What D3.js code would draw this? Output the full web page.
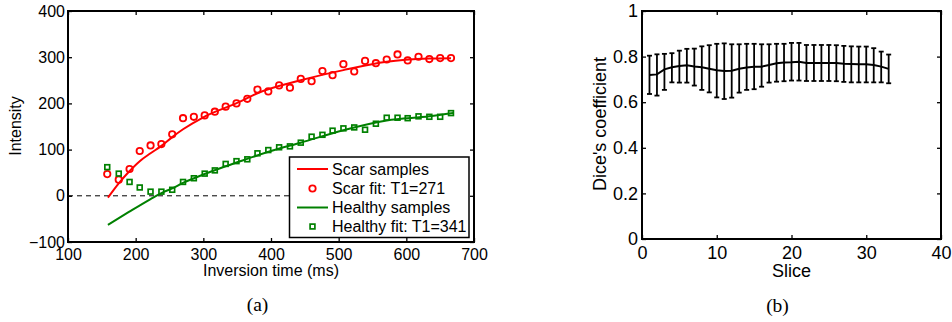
<!DOCTYPE html>
<html>
<head>
<meta charset="utf-8">
<script src="https://cdn.jsdelivr.net/npm/d3@7"></script>
<style>
  body { margin: 0; background: #fff; }
  svg { display: block; }
  .tick text { font-family: "Liberation Sans", Arial, sans-serif; fill: #000; }
  .label { font-family: "Liberation Sans", Arial, sans-serif; fill: #000; }
  .caption { font-family: "Liberation Serif", "Times New Roman", serif; font-size: 19.5px; fill: #000; }
</style>
</head>
<body>
<script>
// (a) inversion recovery samples
const invTime = [158, 175, 191, 206, 222, 238, 254, 270, 286, 302, 317, 333, 349, 365, 380, 396, 412,
  428, 444, 460, 476, 491, 507, 523, 539, 555, 571, 587, 602, 618, 634, 650, 666];
const scarValues = [47, 35, 58, 97, 109, 112, 133, 168, 171, 174, 182, 193, 200, 210, 230, 226, 239,
  234, 253, 248, 270, 261, 285, 269, 292, 287, 295, 306, 293, 301, 296, 298, 298];
const healthyValues = [62, 48, 30, 18, 9, 9, 13, 30, 38, 48, 55, 69, 75, 79, 92, 99, 105,
  107, 115, 128, 132, 141, 146, 148, 143, 156, 169, 169, 168, 172, 171, 171, 179];

// fitted recovery curves
const scarFitTime = [159, 175, 190, 206, 222, 238, 254, 270, 300, 350, 380, 444, 507, 571, 634, 666];
const scarFitValues = [-4, 27, 52, 75, 92, 108, 127, 144, 170, 201, 222, 250, 272, 290, 297, 298];
const healthyFitTime = [159, 190, 222, 238, 254, 270, 300, 333, 365, 400, 444, 507, 571, 634, 669];
const healthyFitValues = [-63, -35, -7, 6, 16, 28, 46, 64, 80, 97, 115, 142, 163, 172, 179];

const legendLabels = ["Scar samples", "Scar fit: T1=271", "Healthy samples", "Healthy fit: T1=341"];
const xTicksA = [100, 200, 300, 400, 500, 600, 700];
const yTicksA = [-100, 0, 100, 200, 300, 400];

// (b) Dice's coefficient per slice
const slices = d3.range(1, 34);
const diceMean = [0.719, 0.722, 0.744, 0.753, 0.759, 0.762, 0.757, 0.753, 0.747, 0.740, 0.737, 0.738,
  0.747, 0.752, 0.755, 0.756, 0.763, 0.771, 0.774, 0.775, 0.777, 0.772, 0.772, 0.772, 0.772, 0.772,
  0.769, 0.768, 0.766, 0.766, 0.763, 0.756, 0.746];
const diceHigh = [0.804, 0.810, 0.812, 0.815, 0.826, 0.834, 0.835, 0.845, 0.850, 0.856, 0.858, 0.854,
  0.854, 0.856, 0.856, 0.854, 0.854, 0.856, 0.856, 0.860, 0.860, 0.851, 0.851, 0.851, 0.851, 0.850,
  0.847, 0.845, 0.844, 0.844, 0.837, 0.822, 0.809];
const diceLow = [0.636, 0.629, 0.654, 0.687, 0.686, 0.686, 0.673, 0.654, 0.643, 0.621, 0.614, 0.620,
  0.642, 0.654, 0.657, 0.668, 0.686, 0.690, 0.692, 0.695, 0.695, 0.693, 0.693, 0.693, 0.693, 0.692,
  0.689, 0.687, 0.687, 0.687, 0.687, 0.687, 0.683];
const xTicksB = [0, 10, 20, 30, 40];
const yTicksB = [0, 0.2, 0.4, 0.6, 0.8, 1];

const width = 952;
const height = 322;
const red = "#ff0000";
const green = "#008000";

const svg = d3.select("body").append("svg")
  .attr("width", width)
  .attr("height", height);

// draws a MATLAB style box with inward ticks on all four sides
function drawBox(g, x, y, xTicks, yTicks, fontSize, xPad, yPad, fmt) {
  const [x0, x1] = x.range();
  const [y0, y1] = y.range();
  g.append("g").attr("transform", `translate(0,${y0})`)
    .call(d3.axisBottom(x).tickValues(xTicks).tickSizeInner(-4).tickSizeOuter(0).tickPadding(xPad).tickFormat(fmt))
    .call(a => a.select(".domain").remove())
    .call(a => a.selectAll("text").style("font-size", fontSize + "px"));
  g.append("g").attr("transform", `translate(0,${y1})`)
    .call(d3.axisTop(x).tickValues(xTicks).tickSizeInner(-4).tickSizeOuter(0).tickFormat(""))
    .call(a => a.select(".domain").remove());
  g.append("g").attr("transform", `translate(${x0},0)`)
    .call(d3.axisLeft(y).tickValues(yTicks).tickSizeInner(-4).tickSizeOuter(0).tickPadding(yPad).tickFormat(fmt))
    .call(a => a.select(".domain").remove())
    .call(a => a.selectAll("text").style("font-size", fontSize + "px"));
  g.append("g").attr("transform", `translate(${x1},0)`)
    .call(d3.axisRight(y).tickValues(yTicks).tickSizeInner(-4).tickSizeOuter(0).tickFormat(""))
    .call(a => a.select(".domain").remove());
  g.selectAll(".tick line").attr("stroke", "#000").attr("stroke-width", 1.3);
  g.append("rect")
    .attr("x", x0).attr("y", y1)
    .attr("width", x1 - x0).attr("height", y0 - y1)
    .attr("fill", "none").attr("stroke", "#000").attr("stroke-width", 2);
}

// ---------- panel (a) ----------
const xA = d3.scaleLinear().domain([100, 700]).range([68, 474]);
const yA = d3.scaleLinear().domain([-100, 400]).range([242, 11]);
const gA = svg.append("g");

gA.append("line")
  .attr("x1", xA(100)).attr("x2", xA(700))
  .attr("y1", yA(0)).attr("y2", yA(0))
  .attr("stroke", "#000").attr("stroke-width", 1)
  .attr("stroke-dasharray", "5,4");

const lineA = d3.line().x(d => xA(d[0])).y(d => yA(d[1])).curve(d3.curveMonotoneX);

gA.append("path")
  .datum(d3.zip(scarFitTime, scarFitValues))
  .attr("d", lineA)
  .attr("fill", "none").attr("stroke", red).attr("stroke-width", 2);

gA.append("path")
  .datum(d3.zip(healthyFitTime, healthyFitValues))
  .attr("d", lineA)
  .attr("fill", "none").attr("stroke", green).attr("stroke-width", 2);

gA.selectAll("circle.scar")
  .data(d3.zip(invTime, scarValues))
  .enter().append("circle")
  .attr("class", "scar")
  .attr("cx", d => xA(d[0]))
  .attr("cy", d => yA(d[1]))
  .attr("r", 3.2)
  .attr("fill", "none").attr("stroke", red).attr("stroke-width", 1.8);

gA.selectAll("rect.healthy")
  .data(d3.zip(invTime, healthyValues))
  .enter().append("rect")
  .attr("class", "healthy")
  .attr("x", d => xA(d[0]) - 2.4)
  .attr("y", d => yA(d[1]) - 2.4)
  .attr("width", 4.8).attr("height", 4.8)
  .attr("fill", "none").attr("stroke", green).attr("stroke-width", 1.7);

drawBox(gA, xA, yA, xTicksA, yTicksA, 16, 7, 3, d3.format(""));

// legend
const legend = gA.append("g");
legend.append("rect")
  .attr("x", 289.5).attr("y", 157)
  .attr("width", 179.5).attr("height", 80.5)
  .attr("fill", "#fff").attr("stroke", "#000").attr("stroke-width", 1.5);
const rowY = [169, 188.5, 207.5, 226.5];
legendLabels.forEach((label, i) => {
  const color = i < 2 ? red : green;
  const y = rowY[i];
  if (i % 2 === 0) {
    legend.append("line")
      .attr("x1", 297).attr("x2", 328).attr("y1", y).attr("y2", y)
      .attr("stroke", color).attr("stroke-width", 2);
  } else if (i === 1) {
    legend.append("circle")
      .attr("cx", 312.5).attr("cy", y).attr("r", 3.2)
      .attr("fill", "none").attr("stroke", color).attr("stroke-width", 1.8);
  } else {
    legend.append("rect")
      .attr("x", 310.1).attr("y", y - 2.4).attr("width", 4.8).attr("height", 4.8)
      .attr("fill", "none").attr("stroke", color).attr("stroke-width", 1.7);
  }
  legend.append("text")
    .attr("class", "label")
    .attr("x", 332).attr("y", y).attr("dy", "0.36em")
    .style("font-size", "16px")
    .text(label);
});

gA.append("text")
  .attr("class", "label")
  .attr("x", 271).attr("y", 276)
  .attr("text-anchor", "middle")
  .style("font-size", "16px")
  .text("Inversion time (ms)");

gA.append("text")
  .attr("class", "label")
  .attr("transform", "translate(21,126) rotate(-90)")
  .attr("text-anchor", "middle")
  .style("font-size", "16px")
  .text("Intensity");

svg.append("text")
  .attr("class", "caption")
  .attr("x", 257.5).attr("y", 311)
  .attr("text-anchor", "middle")
  .text("(a)");

// ---------- panel (b) ----------
const xB = d3.scaleLinear().domain([0, 40]).range([642, 941]);
const yB = d3.scaleLinear().domain([0, 1]).range([239, 11]);
const gB = svg.append("g");

const bars = gB.selectAll("g.bar")
  .data(slices.map((s, i) => ({ s, lo: diceLow[i], hi: diceHigh[i] })))
  .enter().append("g")
  .attr("class", "bar")
  .attr("stroke", "#000").attr("stroke-width", 1.8);
bars.append("line")
  .attr("x1", d => xB(d.s)).attr("x2", d => xB(d.s))
  .attr("y1", d => yB(d.lo)).attr("y2", d => yB(d.hi));
bars.append("line")
  .attr("x1", d => xB(d.s) - 2.5).attr("x2", d => xB(d.s) + 2.5)
  .attr("y1", d => yB(d.lo)).attr("y2", d => yB(d.lo));
bars.append("line")
  .attr("x1", d => xB(d.s) - 2.5).attr("x2", d => xB(d.s) + 2.5)
  .attr("y1", d => yB(d.hi)).attr("y2", d => yB(d.hi));

gB.append("path")
  .datum(d3.zip(slices, diceMean))
  .attr("d", d3.line().x(d => xB(d[0])).y(d => yB(d[1])))
  .attr("fill", "none").attr("stroke", "#000").attr("stroke-width", 2);

drawBox(gB, xB, yB, xTicksB, yTicksB, 18, 7, 4, d3.format("~g"));

gB.append("text")
  .attr("class", "label")
  .attr("x", xB(20)).attr("y", 277)
  .attr("text-anchor", "middle")
  .style("font-size", "18px")
  .text("Slice");

gB.append("text")
  .attr("class", "label")
  .attr("transform", "translate(606,124) rotate(-90)")
  .attr("text-anchor", "middle")
  .style("font-size", "18px")
  .text("Dice's coefficient");

svg.append("text")
  .attr("class", "caption")
  .attr("x", 777.5).attr("y", 312)
  .attr("text-anchor", "middle")
  .text("(b)");
</script>
</body>
</html>
